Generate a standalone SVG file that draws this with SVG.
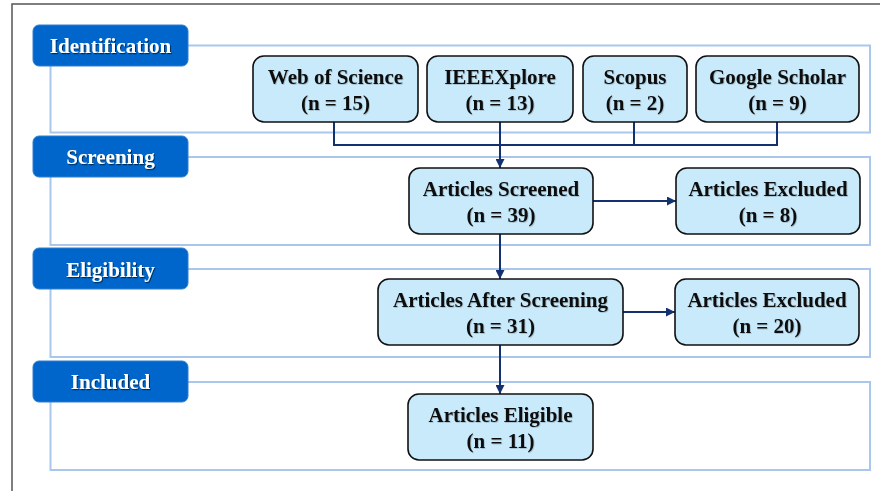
<svg xmlns="http://www.w3.org/2000/svg" width="880" height="491" viewBox="0 0 880 491">
<defs>
<style>
.frame{fill:none;stroke:#555;stroke-width:1.5}
.panel{fill:none;stroke:#A9C7EB;stroke-width:2}
.lab rect{fill:#0066CC;stroke:#2E7FD0;stroke-width:1}
.lab text{font-family:"Liberation Serif","Times New Roman",serif;font-weight:bold;font-size:21px;fill:#fff;text-anchor:middle;filter:url(#sh)}
.node rect{fill:#C8EAFB;stroke:#111;stroke-width:1.6}
.node text{font-family:"Liberation Serif","Times New Roman",serif;font-weight:bold;font-size:21px;fill:#111;text-anchor:middle;filter:url(#sh2)}
.conn path{fill:none;stroke:#14316F;stroke-width:2}
</style>
<filter id="sh" x="-10%" y="-20%" width="120%" height="150%"><feDropShadow dx="1" dy="1.2" stdDeviation="0.6" flood-color="#000" flood-opacity="0.55"/></filter>
<filter id="sh2" x="-10%" y="-20%" width="120%" height="150%"><feDropShadow dx="0.8" dy="0.8" stdDeviation="0.4" flood-color="#000" flood-opacity="0.2"/></filter>
<marker id="ah" viewBox="0 0 10 10" refX="10" refY="5" markerWidth="5" markerHeight="4.5" orient="auto" markerUnits="strokeWidth"><path d="M0,0 L10,5 L0,10 z" fill="#14316F"/></marker>
</defs>
<rect width="880" height="491" fill="#fff"/>
<rect class="frame" x="12" y="4" width="880" height="500"/>
<g id="panels">
<rect class="panel" x="50.5" y="45.5" width="819.5" height="87"/>
<rect class="panel" x="50.5" y="157" width="819.5" height="88"/>
<rect class="panel" x="50.5" y="269" width="819.5" height="88"/>
<rect class="panel" x="50.5" y="382" width="819.5" height="88"/>
</g>
<g id="lab-identification" class="lab"><rect x="33" y="25" width="155" height="41" rx="6"/><text x="110.5" y="53">Identification</text></g>
<g id="lab-screening" class="lab"><rect x="33" y="136" width="155" height="41" rx="6"/><text x="110.5" y="164">Screening</text></g>
<g id="lab-eligibility" class="lab"><rect x="33" y="248" width="155" height="41" rx="6"/><text x="110.5" y="277">Eligibility</text></g>
<g id="lab-included" class="lab"><rect x="33" y="361" width="155" height="41" rx="6"/><text x="110.5" y="389">Included</text></g>
<g id="connectors" class="conn">
<path d="M334,122 V145 H777 V122"/>
<path d="M634,122 V145"/>
<path d="M500,122 V168" marker-end="url(#ah)"/>
<path d="M593,201 H676" marker-end="url(#ah)"/>
<path d="M500,234 V279" marker-end="url(#ah)"/>
<path d="M623,312 H675" marker-end="url(#ah)"/>
<path d="M500,345 V394" marker-end="url(#ah)"/>
</g>
<g id="n-wos" class="node"><rect x="253" y="56" width="165" height="66" rx="11"/><text x="335.5" y="84">Web of Science</text><text x="335.5" y="110">(n = 15)</text></g>
<g id="n-ieee" class="node"><rect x="427" y="56" width="146" height="66" rx="11"/><text x="500" y="84">IEEEXplore</text><text x="500" y="110">(n = 13)</text></g>
<g id="n-scopus" class="node"><rect x="583" y="56" width="104" height="66" rx="11"/><text x="635" y="84">Scopus</text><text x="635" y="110">(n = 2)</text></g>
<g id="n-gs" class="node"><rect x="696" y="56" width="163" height="66" rx="11"/><text x="777.5" y="84">Google Scholar</text><text x="777.5" y="110">(n = 9)</text></g>
<g id="n-screened" class="node"><rect x="409" y="168" width="184" height="66" rx="11"/><text x="501" y="196">Articles Screened</text><text x="501" y="222">(n = 39)</text></g>
<g id="n-excl1" class="node"><rect x="676" y="168" width="184" height="66" rx="11"/><text x="768" y="196">Articles Excluded</text><text x="768" y="222">(n = 8)</text></g>
<g id="n-after" class="node"><rect x="378" y="279" width="245" height="66" rx="11"/><text x="500.5" y="307">Articles After Screening</text><text x="500.5" y="333">(n = 31)</text></g>
<g id="n-excl2" class="node"><rect x="675" y="279" width="184" height="66" rx="11"/><text x="767" y="307">Articles Excluded</text><text x="767" y="333">(n = 20)</text></g>
<g id="n-eligible" class="node"><rect x="408" y="394" width="185" height="66" rx="11"/><text x="500.5" y="422">Articles Eligible</text><text x="500.5" y="448">(n = 11)</text></g>
</svg>
